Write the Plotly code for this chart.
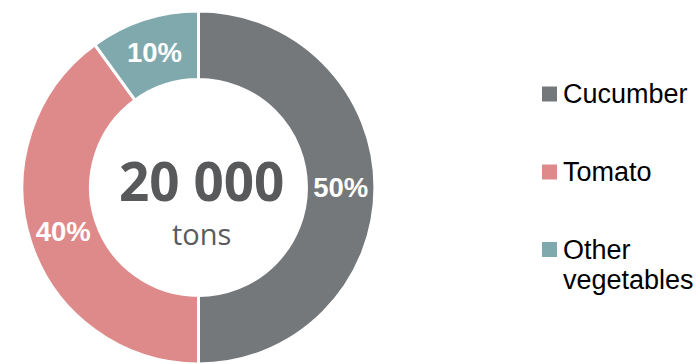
import plotly.graph_objects as go

# Production by crop, tons
crops = ["Cucumber", "Tomato", "Other vegetables"]
tons = [10000, 8000, 2000]
colors = ["#75787b", "#de8a8a", "#80a9ae"]
legend_lines = [["Cucumber"], ["Tomato"], ["Other", "vegetables"]]

W, H = 700, 364
total = sum(tons)
total_label = f"{total:,}".replace(",", " ")


def px_x(x):
    return x / W


def px_y(y):
    return (H - y) / H


fig = go.Figure(
    go.Pie(
        labels=crops,
        values=tons,
        sort=False,
        direction="clockwise",
        rotation=0,
        hole=0.612,
        marker=dict(colors=colors, line=dict(color="white", width=3)),
        texttemplate="<b>%{percent:.0%}</b>",
        textposition="inside",
        insidetextorientation="horizontal",
        textfont=dict(family="Liberation Sans, Arial, sans-serif", size=27.5,
                      color="white", weight="bold"),
        hoverinfo="label+value+percent",
        showlegend=False,
        domain=dict(x=[px_x(21.5), px_x(375.5)], y=[0, px_y(11)]),
    )
)

annotations = [
    dict(
        text=f"<b>{total_label}</b>",
        x=px_x(201), y=px_y(180), xref="paper", yref="paper",
        xanchor="center", yanchor="middle", showarrow=False,
        font=dict(family="Open Sans, sans-serif", size=53, color="#58595b"),
    ),
    dict(
        text="tons",
        x=px_x(201), y=px_y(234), xref="paper", yref="paper",
        xanchor="center", yanchor="middle", showarrow=False,
        font=dict(family="Open Sans, sans-serif", size=29, color="#5a5b5d"),
    ),
]

# Legend: colour square plus label lines
shapes = []
row_centers = [94, 172, 249.5]
line_gap = 30
for lines, color, yc in zip(legend_lines, colors, row_centers):
    shapes.append(dict(
        type="rect", xref="paper", yref="paper",
        x0=px_x(542), x1=px_x(557), y0=px_y(yc + 7.5), y1=px_y(yc - 7.5),
        fillcolor=color, line=dict(width=0),
    ))
    for i, line in enumerate(lines):
        annotations.append(dict(
            text=line,
            x=px_x(561), y=px_y(yc + i * line_gap), xref="paper", yref="paper",
            xanchor="left", yanchor="middle", showarrow=False,
            font=dict(family="Liberation Sans, Arial, sans-serif", size=27, color="black"),
        ))

fig.update_layout(
    width=W, height=H,
    margin=dict(l=0, r=0, t=0, b=0),
    paper_bgcolor="white", plot_bgcolor="white",
    annotations=annotations, shapes=shapes,
)

fig.write_html("out.html")
